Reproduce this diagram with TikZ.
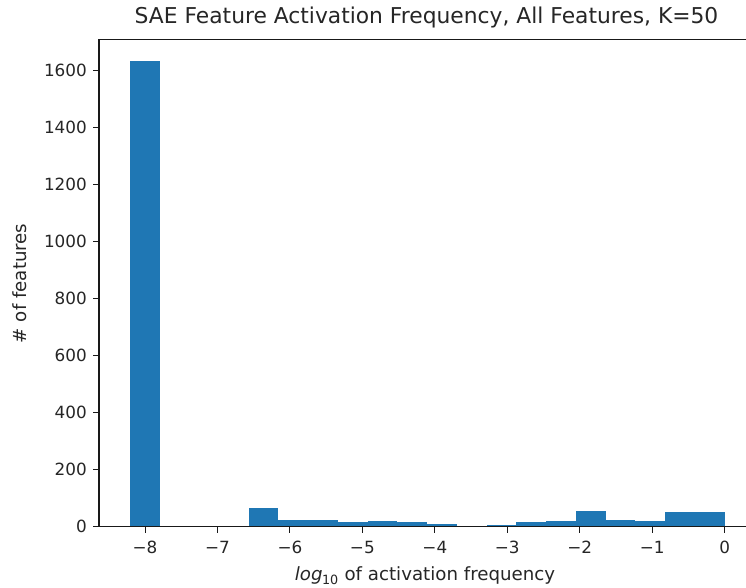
\documentclass[tikz,border=0pt]{standalone}
\usepackage{fontspec}
\setmainfont{DejaVu Sans}
\begin{document}
\begin{tikzpicture}[x=1pt,y=-1pt,
  spine/.style={line width=1.1pt,black!90},
  tickmark/.style={line width=1.0pt,black!90},
  ticklab/.style={font=\fontsize{16.8}{20}\selectfont,text=black!85,inner sep=0pt},
  axlab/.style={font=\fontsize{18.2}{22}\selectfont,text=black!85,inner sep=0pt},
  titlelab/.style={font=\fontsize{21.8}{26}\selectfont,text=black!85,inner sep=0pt},
  bar/.style={fill=barblue,draw=none}]
\definecolor{barblue}{HTML}{1F77B4}
\useasboundingbox (0,0) rectangle (746,588);
\fill[white] (0,0) rectangle (746,588);
% bars
\begin{scope}[shift={(724.6,526.8)},x=72.45pt,y=0.2852pt]
\foreach \k/\h in {0/1632,4/66,5/25,6/25,7/17,8/21,9/16,10/10,12/7,13/16,14/21,15/57,16/25,17/21,18/53,19/53}{
  \fill[bar] ({-8.21+0.4105*\k},0) rectangle ({-8.21+0.4105*(\k+1)},\h);
}
\end{scope}
% spines
\coordinate (tl) at (99,39.5);
\coordinate (bl) at (99,526.8);
\coordinate (br) at (746,526.8);
\coordinate (tr) at (746,39.5);
\draw[spine] (tl) -- (bl) -- (br);
\draw[spine] (tl) -- (tr);
% y ticks
\foreach \v in {0,200,...,1600}{
  \coordinate (yt\v) at (99,{526.8-0.2852*\v});
  \draw[tickmark] (yt\v) -- ++(-6,0);
  \node[ticklab,anchor=east] (ylab\v) at ([xshift=-12pt]yt\v) {\v};
}
% x ticks
\foreach \v/\t in {-8/−8,-7/−7,-6/−6,-5/−5,-4/−4,-3/−3,-2/−2,-1/−1,0/0}{
  \coordinate (xt\v) at ({724.6+72.45*\v},526.8);
  \draw[tickmark] (xt\v) -- ++(0,6);
  \node[ticklab,anchor=center] (xlab\v) at ([yshift=-20.5pt]xt\v) {\t};
}
% labels
\node[axlab] (xlabel) at (425,575.5) {\textit{log}\textsubscript{\kern-0.5pt10} of activation frequency};
\node[axlab,rotate=90] (ylabel) at (20,283.3) {\# of features};
\node[titlelab] (title) at (426.5,17.5) {SAE Feature Activation Frequency, All Features, K=50};
\end{tikzpicture}
\end{document}
